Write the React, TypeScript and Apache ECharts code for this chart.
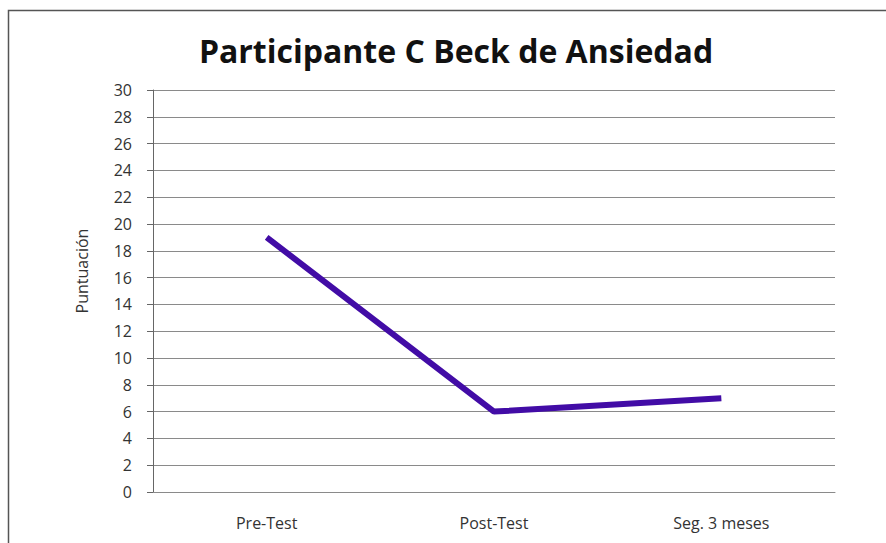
import React, { useEffect, useRef } from "react";
import * as echarts from "echarts";

const categories = ["Pre-Test", "Post-Test", "Seg. 3 meses"];
const values = [19, 6, 7];
const titleText = "Participante C Beck de Ansiedad";
const yAxisName = "Puntuación";

export default function App() {
  const ref = useRef<HTMLDivElement>(null);
  useEffect(() => {
    const chart = echarts.init(ref.current!, null, { renderer: "svg" });
    const font = "'Open Sans', 'Noto Sans', sans-serif";
    chart.setOption({
      animation: false,
      backgroundColor: "#ffffff",
      title: {
        text: titleText,
        left: 451,
        textAlign: "center",
        top: 29,
        textStyle: { fontFamily: font, fontSize: 32, fontWeight: "bold", color: "#111" },
      },
      graphic: [
        {
          type: "rect",
          shape: { x: 8.5, y: 10.5, width: 900, height: 600 },
          style: { fill: "none", stroke: "#555", lineWidth: 1.5 },
          silent: true,
          z: -1,
        },
        {
          type: "text",
          x: 82,
          y: 271,
          rotation: Math.PI / 2,
          style: {
            text: yAxisName,
            fontFamily: font,
            fontSize: 16,
            fill: "#333",
            align: "center",
            verticalAlign: "middle",
          },
        },
      ],
      grid: { left: 153, right: 51, top: 90, bottom: 51, containLabel: false },
      xAxis: {
        type: "category",
        data: categories,
        boundaryGap: true,
        axisLine: { show: true, lineStyle: { color: "#8a8a8a", width: 1 } },
        axisTick: { show: false },
        axisLabel: { fontFamily: font, fontSize: 16, color: "#333", margin: 23 },
      },
      yAxis: {
        type: "value",
        min: 0,
        max: 30,
        interval: 2,
        axisLine: { show: true, lineStyle: { color: "#666", width: 1 } },
        axisTick: { show: true, length: 6, lineStyle: { color: "#666" } },
        axisLabel: { fontFamily: font, fontSize: 16, color: "#333", margin: 21 },
        splitLine: { show: true, lineStyle: { color: "#8a8a8a", width: 1 } },
      },
      series: [
        {
          type: "line",
          data: values,
          symbol: "none",
          lineStyle: { color: "#420ca6", width: 6 },
          itemStyle: { color: "#420ca6" },
        },
      ],
    });
    return () => chart.dispose();
  }, []);
  return (
    <div
      ref={ref}
      style={{ position: "fixed", left: 0, top: 0, width: 886, height: 543 }}
    />
  );
}
